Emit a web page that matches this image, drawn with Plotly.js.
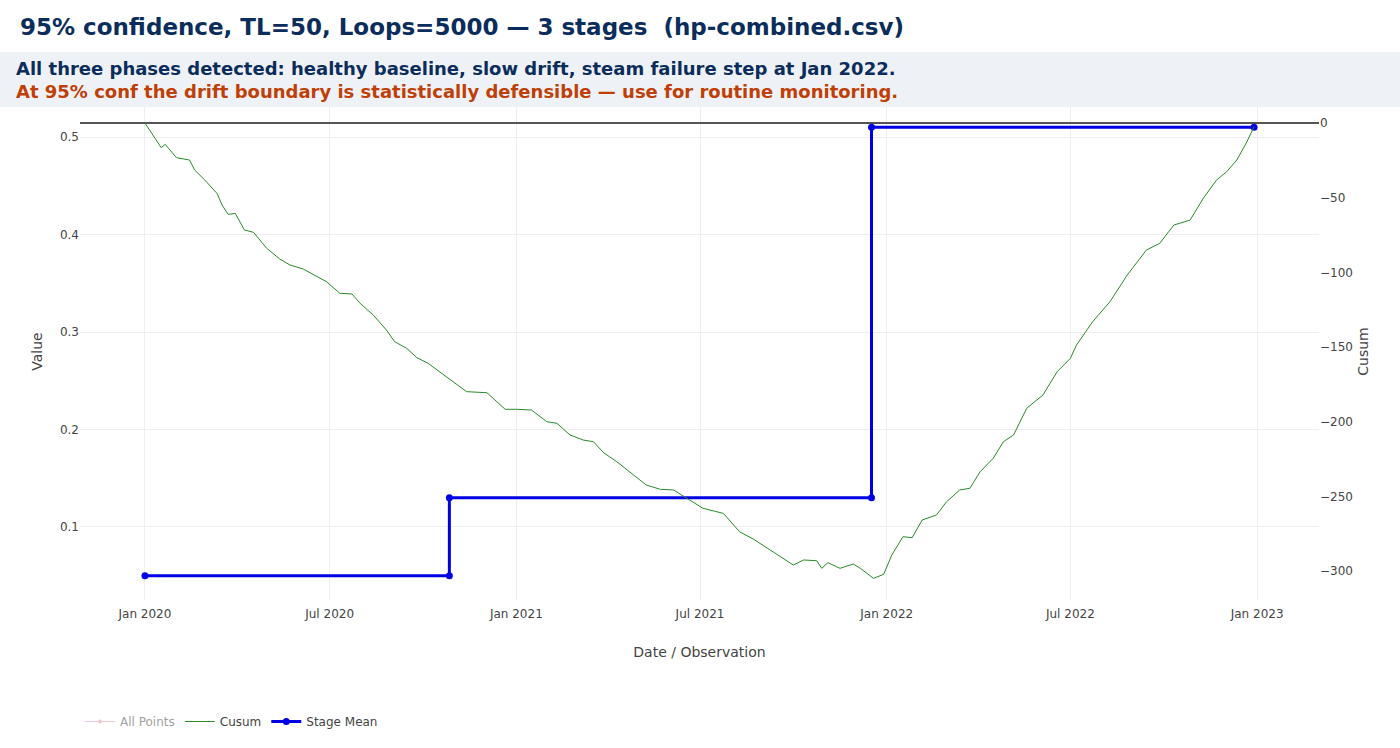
<!DOCTYPE html>
<html>
<head>
<meta charset="utf-8">
<script src="https://cdn.plot.ly/plotly-3.0.1.min.js"></script>
<style>
  html, body { margin: 0; padding: 0; background: #fff; }
  #graph { width: 1400px; height: 748px; }
</style>
</head>
<body>
<div id="graph"></div>
<script>
// stage means (step line)
var stageDates = ['2020-01-01', '2020-10-27', '2020-10-27', '2021-12-17', '2021-12-17', '2022-12-29'];
var stageMeans = [0.05, 0.05, 0.13, 0.13, 0.51, 0.51];

// cusum
var cusumDates = [
  '2020-01-01', '2020-01-09', '2020-01-17', '2020-01-21', '2020-02-01', '2020-02-14', '2020-02-19', '2020-02-29',
  '2020-03-12', '2020-03-17', '2020-03-23', '2020-03-30', '2020-04-08', '2020-04-17', '2020-04-30', '2020-05-13',
  '2020-05-23', '2020-06-05', '2020-06-18', '2020-06-28', '2020-07-11', '2020-07-23', '2020-07-31', '2020-08-13',
  '2020-08-26', '2020-09-03', '2020-09-15', '2020-09-25', '2020-10-06', '2020-10-18', '2020-10-31', '2020-11-13',
  '2020-12-03', '2020-12-21', '2021-01-01', '2021-01-16', '2021-01-31', '2021-02-10', '2021-02-23', '2021-03-08',
  '2021-03-18', '2021-03-28', '2021-04-10', '2021-04-25', '2021-05-09', '2021-05-23', '2021-06-05', '2021-06-18',
  '2021-07-04', '2021-07-24', '2021-08-09', '2021-08-23', '2021-09-11', '2021-10-01', '2021-10-11', '2021-10-24',
  '2021-10-29', '2021-11-04', '2021-11-16', '2021-11-29', '2021-12-06', '2021-12-19', '2021-12-29', '2022-01-06',
  '2022-01-17', '2022-01-26', '2022-02-05', '2022-02-19', '2022-03-01', '2022-03-14', '2022-03-24', '2022-04-03',
  '2022-04-16', '2022-04-26', '2022-05-06', '2022-05-19', '2022-06-04', '2022-06-18', '2022-07-01', '2022-07-07',
  '2022-07-23', '2022-08-09', '2022-08-26', '2022-09-14', '2022-09-27', '2022-10-11', '2022-10-27', '2022-11-09',
  '2022-11-22', '2022-12-02', '2022-12-12', '2022-12-22', '2022-12-29'
];
var cusumValues = [
  0, -8.0, -16.5, -14.3, -23.2, -24.8, -31.5, -38.2,
  -47.1, -54.9, -61.2, -60.5, -71.6, -73.2, -83.9, -91.1,
  -95.1, -97.8, -102.9, -106.3, -114.0, -114.5, -120.7, -128.6,
  -138.6, -146.4, -150.9, -157.1, -160.9, -167.0, -173.2, -179.9,
  -180.6, -191.7, -191.7, -192.2, -200.0, -201.1, -208.9, -212.3,
  -213.4, -220.8, -226.8, -234.6, -242.4, -245.3, -245.7, -251.3,
  -258.0, -261.4, -273.7, -278.8, -287.1, -296.0, -292.6, -293.1,
  -298.2, -294.4, -298.2, -295.3, -298.2, -304.9, -302.2, -289.3,
  -277.0, -277.7, -265.8, -262.5, -253.6, -245.7, -244.6, -233.5,
  -224.5, -213.4, -208.9, -191.0, -182.1, -166.5, -157.6, -148.7,
  -133.0, -119.7, -101.8, -85.0, -80.6, -68.3, -65.0, -50.4,
  -38.2, -32.6, -24.8, -12.5, -2.5
];

var titleText = '95% confidence, TL=50, Loops=5000 \u2014 3 stages  (hp-combined.csv)';
var noteLine1 = 'All three phases detected: healthy baseline, slow drift, steam failure step at Jan 2022.';
var noteLine2 = 'At 95% conf the drift boundary is statistically defensible \u2014 use for routine monitoring.';

var allPoints = {
  x: stageDates,
  y: stageMeans,
  name: 'All Points',
  mode: 'lines+markers',
  type: 'scatter',
  visible: 'legendonly',
  line: { color: '#e8909a', width: 1 },
  marker: { color: '#e8909a', size: 4 }
};

var cusum = {
  x: cusumDates,
  y: cusumValues,
  name: 'Cusum',
  mode: 'lines',
  type: 'scatter',
  yaxis: 'y2',
  line: { color: '#2a8a2a', width: 1 }
};

var stage = {
  x: stageDates,
  y: stageMeans,
  name: 'Stage Mean',
  mode: 'lines+markers',
  type: 'scatter',
  line: { color: '#0000e6', width: 3 },
  marker: { color: '#0000e6', size: 7 }
};

var sans = 'DejaVu Sans, Verdana, sans-serif';

var layout = {
  width: 1400,
  height: 748,
  paper_bgcolor: '#fff',
  plot_bgcolor: '#fff',
  margin: { l: 80, r: 81, t: 103, b: 148 },
  font: { family: sans, size: 12, color: '#444' },
  title: {
    text: titleText,
    xref: 'container', yref: 'container',
    x: 20 / 1400, xanchor: 'left',
    y: 1 - 27 / 748, yanchor: 'middle',
    font: { family: sans, size: 23, weight: 'bold', color: '#0b2d5b' }
  },
  xaxis: {
    type: 'date',
    range: ['2019-10-29', '2023-03-03'],
    tick0: '2020-01-01',
    dtick: 'M6',
    tickformat: '%b %Y',
    showgrid: true,
    gridcolor: '#eeeeee',
    zeroline: false,
    ticks: 'outside',
    ticklen: 3,
    tickcolor: 'rgba(0,0,0,0)',
    title: { text: 'Date / Observation', font: { size: 14 }, standoff: 26 }
  },
  yaxis: {
    range: [0.025, 0.535],
    dtick: 0.1,
    showgrid: true,
    gridcolor: '#eeeeee',
    zeroline: false,
    title: { text: 'Value', font: { size: 14 } }
  },
  yaxis2: {
    overlaying: 'y',
    side: 'right',
    range: [-319.4, 13.4],
    dtick: 50,
    showgrid: false,
    zeroline: true,
    zerolinecolor: '#555',
    zerolinewidth: 1.5,
    title: { text: 'Cusum', font: { size: 14 } }
  },
  legend: {
    orientation: 'h',
    x: 0, xanchor: 'left',
    yref: 'container',
    y: 41 / 748, yanchor: 'top',
    font: { size: 12, color: '#444' }
  },
  shapes: [{
    type: 'rect',
    xref: 'paper', yref: 'paper',
    x0: -80 / 1239, x1: 1 + 81 / 1239,
    y0: (600 - 107) / 497, y1: (600 - 52) / 497,
    fillcolor: '#eef2f7',
    line: { width: 0 },
    layer: 'above'
  }],
  annotations: [{
    text: '<b>' + noteLine1 + '</b>',
    xref: 'paper', yref: 'paper',
    x: -66 / 1239, xanchor: 'left',
    y: (600 - 68) / 497, yanchor: 'middle',
    showarrow: false,
    font: { family: sans, size: 18, color: '#0b2d5b' }
  }, {
    text: '<b>' + noteLine2 + '</b>',
    xref: 'paper', yref: 'paper',
    x: -66 / 1239, xanchor: 'left',
    y: (600 - 92) / 497, yanchor: 'middle',
    showarrow: false,
    font: { family: sans, size: 18, color: '#bf3f06' }
  }]
};

Plotly.newPlot('graph', [allPoints, cusum, stage], layout, { displayModeBar: false });
</script>
</body>
</html>
